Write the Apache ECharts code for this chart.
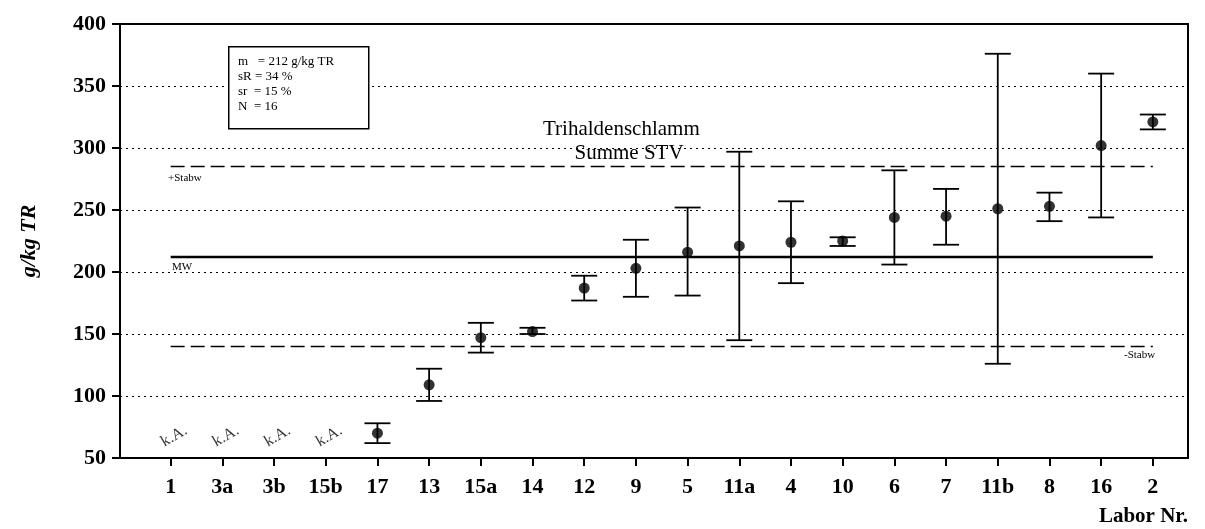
<!DOCTYPE html><html><head><meta charset="utf-8"><script src="https://cdn.jsdelivr.net/npm/echarts@6/dist/echarts.min.js"></script></head><body style="margin:0;background:#fff"><div id="c" style="width:1205px;height:529px"></div><script>
const categories=['1','3a','3b','15b','17','13','15a','14','12','9','5','11a','4','10','6','7','11b','8','16','2'];
const means=[null,null,null,null,70,109,147,152,187,203,216,221,224,225,244,245,251,253,302,321];
const lows=[null,null,null,null,62,96,135,150,177,180,181,145,191,221,206,222,126,241,244,315];
const highs=[null,null,null,null,78,122,159,155,197,226,252,297,257,228,282,267,376,264,360,327];
const mw=212, plusStabw=285, minusStabw=140;
const F='Liberation Serif';
const pts=[],errs=[],ka=[];
categories.forEach((c,i)=>{if(means[i]==null){ka.push([i,66]);}else{pts.push([i,means[i]]);errs.push([i,lows[i],highs[i]]);}});
const ch=echarts.init(document.getElementById('c'));
ch.setOption({animation:false,
grid:{left:120,right:17,top:24,bottom:71,show:true,borderColor:'#000',borderWidth:2},
xAxis:{type:'value',min:-0.98,max:19.68,interval:1,splitLine:{show:false},
 axisLine:{onZero:false,lineStyle:{color:'#000',width:2}},axisTick:{length:8,lineStyle:{color:'#000',width:2},customValues:categories.map((c,i)=>i)},
 axisLabel:{customValues:categories.map((c,i)=>i),formatter:v=>categories[Math.round(v)]||'',fontFamily:F,fontWeight:'bold',fontSize:22,color:'#000',margin:18},
 name:'Labor Nr.',nameLocation:'end',nameGap:0,nameTextStyle:{fontFamily:F,fontWeight:'bold',fontSize:21,color:'#000',align:'right',verticalAlign:'top',padding:[48,0,0,0]}},
yAxis:{type:'value',min:50,max:400,interval:50,
 axisLine:{onZero:false,lineStyle:{color:'#000',width:2}},axisTick:{show:true,length:8,lineStyle:{color:'#000',width:2}},
 axisLabel:{fontFamily:F,fontWeight:'bold',fontSize:22,color:'#000',margin:14},
 splitLine:{lineStyle:{type:[2,4],color:'#000',width:1}},
 name:'g/kg TR',nameLocation:'middle',nameGap:80,nameTextStyle:{fontFamily:F,fontWeight:'bold',fontStyle:'italic',fontSize:22,color:'#000'}},
series:[
 {type:'line',data:[[0,mw],[19,mw]],symbol:'none',lineStyle:{color:'#000',width:2.5},silent:true},
 {type:'line',data:[[0,plusStabw],[19,plusStabw]],symbol:'none',lineStyle:{color:'#000',width:1.5,type:[14,6]},silent:true},
 {type:'line',data:[[0,minusStabw],[19,minusStabw]],symbol:'none',lineStyle:{color:'#000',width:1.5,type:[14,6]},silent:true},
 {type:'custom',data:errs,renderItem:(p,api)=>{const x=api.value(0);const a=api.coord([x,api.value(1)]),b=api.coord([x,api.value(2)]);const w=13;
  return {type:'group',children:[
   {type:'line',shape:{x1:a[0],y1:a[1],x2:b[0],y2:b[1]},style:{stroke:'#000',lineWidth:1.8}},
   {type:'line',shape:{x1:a[0]-w,y1:a[1],x2:a[0]+w,y2:a[1]},style:{stroke:'#000',lineWidth:1.8}},
   {type:'line',shape:{x1:b[0]-w,y1:b[1],x2:b[0]+w,y2:b[1]},style:{stroke:'#000',lineWidth:1.8}}]};}},
 {type:'scatter',data:pts,symbolSize:11,itemStyle:{color:'#000'},z:5},
 {type:'scatter',data:ka,symbolSize:0,label:{show:true,formatter:'k.A.',rotate:30,fontFamily:F,fontSize:16,color:'#000',position:'inside',offset:[4,0]}}
],
graphic:[
 {type:'rect',left:228,top:46,shape:{width:140,height:82},style:{fill:'#fff',stroke:'#000',lineWidth:1.5},z:10},
 {type:'text',left:238,top:54,style:{text:'m   = 212 g/kg TR\nsR = 34 %\nsr  = 15 %\nN  = 16',font:'13px "Liberation Serif"',lineHeight:15,fill:'#000'},z:11},
 {type:'text',left:543,top:117,style:{text:'Trihaldenschlamm\n      Summe STV',font:'21px "Liberation Serif"',lineHeight:24,fill:'#000'},z:11},
 {type:'text',left:168,top:173,style:{text:'+Stabw',font:'11px "Liberation Serif"',fill:'#000'}},
 {type:'text',left:172,top:262,style:{text:'MW',font:'11px "Liberation Serif"',fill:'#000'}},
 {type:'text',left:1124,top:350,style:{text:'-Stabw',font:'11px "Liberation Serif"',fill:'#000'}}
]});
</script></body></html>
